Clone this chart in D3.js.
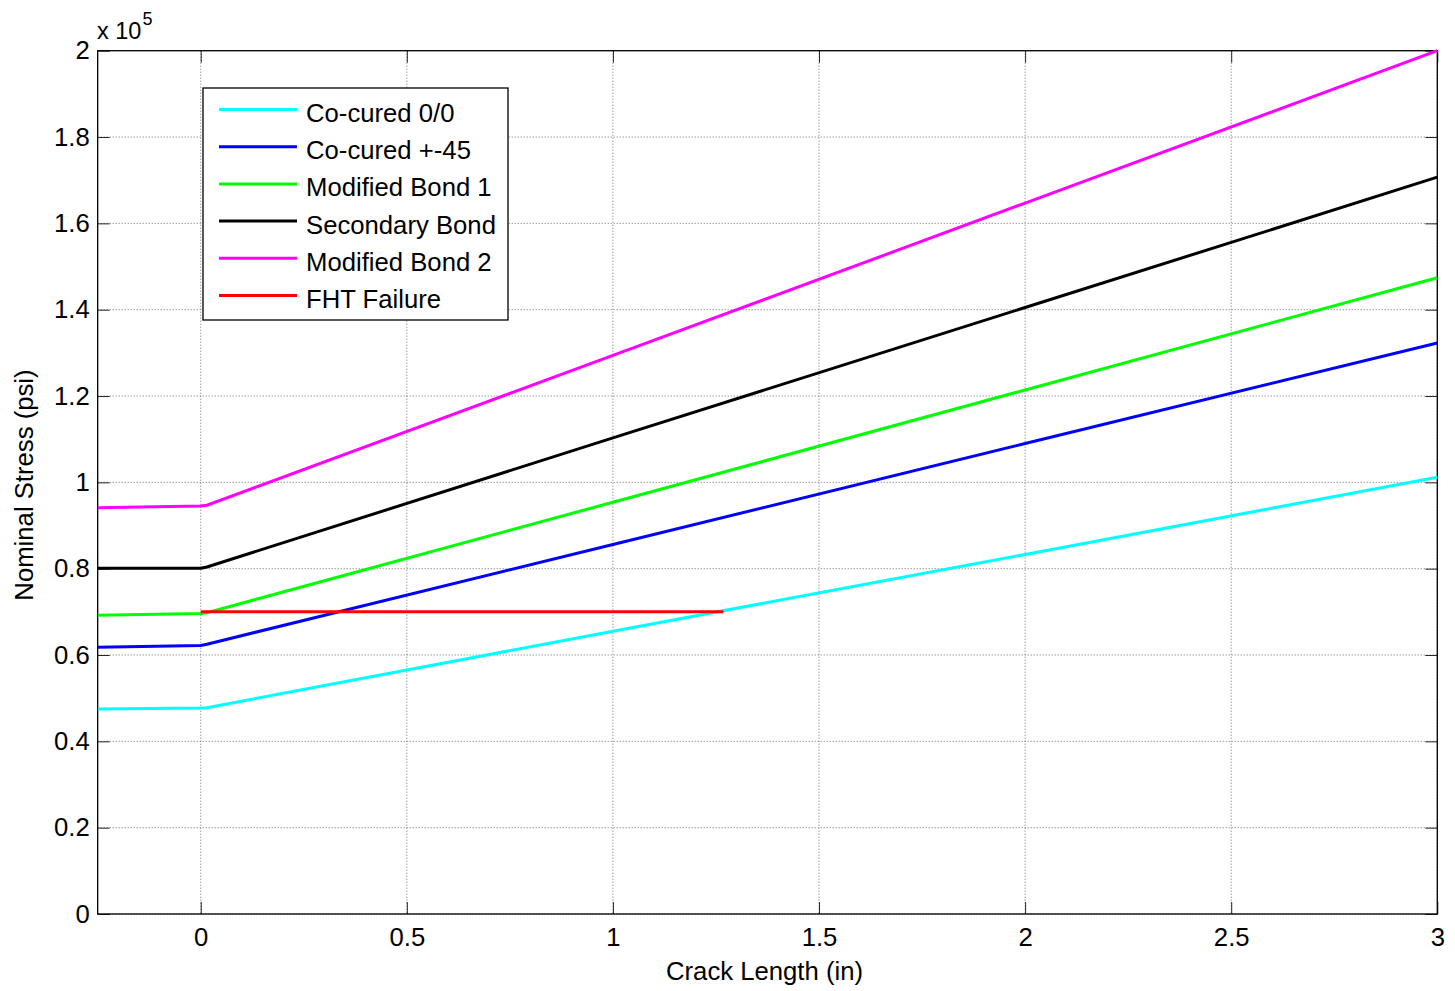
<!DOCTYPE html>
<html>
<head>
<meta charset="utf-8">
<script src="https://cdn.jsdelivr.net/npm/d3@7/dist/d3.min.js"></script>
<style>
  html, body { margin: 0; padding: 0; background: #fff; }
  svg { display: block; font-family: "Liberation Sans", Arial, sans-serif; }
</style>
</head>
<body>
<svg id="chart" width="1455" height="991"></svg>
<script>
// Crack length (in) breakpoints and nominal stress (psi) for each configuration
const crackLength = [-0.25, 0, 0.015, 1, 2, 3];
const cocured00   = [47500, 47700, 47800, 65500, 83300, 101200];
const cocured45   = [61800, 62200, 62500, 85600, 109000, 132300];
const modBond1    = [69200, 69600, 69800, 95400, 121400, 147400];
const secBond     = [80100, 80100, 80400, 110300, 140500, 170700];
const modBond2    = [94100, 94500, 94700, 129400, 164700, 200000];
const fhtLength   = [0, 1.268];
const fhtFailure  = [70000, 70000];

const seriesNames  = ["Co-cured 0/0", "Co-cured +-45", "Modified Bond 1", "Secondary Bond", "Modified Bond 2", "FHT Failure"];
const seriesColors = ["#00ffff", "#0000ff", "#00ff00", "#000000", "#ff00ff", "#ff0000"];

const xTicks = [0, 0.5, 1, 1.5, 2, 2.5, 3];
const yTicks = [0, 20000, 40000, 60000, 80000, 100000, 120000, 140000, 160000, 180000, 200000];

const svg = d3.select("#chart");
const plot = { left: 97.7, right: 1437.3, top: 50.7, bottom: 914 };
const fontSize = 25.7;

const x = d3.scaleLinear().domain([-0.25, 3]).range([plot.left, plot.right]);
const y = d3.scaleLinear().domain([0, 200000]).range([plot.bottom, plot.top]);

const series = [
  { xs: crackLength, ys: cocured00 },
  { xs: crackLength, ys: cocured45 },
  { xs: crackLength, ys: modBond1 },
  { xs: crackLength, ys: secBond },
  { xs: crackLength, ys: modBond2 },
  { xs: fhtLength,   ys: fhtFailure }
].map((s, i) => ({ name: seriesNames[i], color: seriesColors[i], points: s.xs.map((v, j) => [v, s.ys[j]]) }));

// Dotted grid
const grid = svg.append("g").attr("stroke", "#6e6e6e").attr("stroke-width", 1).attr("stroke-dasharray", "1,2");
xTicks.forEach(t => grid.append("line")
  .attr("x1", x(t)).attr("x2", x(t)).attr("y1", plot.top).attr("y2", plot.bottom));
yTicks.forEach(t => grid.append("line")
  .attr("x1", plot.left).attr("x2", plot.right).attr("y1", y(t)).attr("y2", y(t)));

// Axes on all four sides, ticks pointing inward
const tickLen = 12;
const fmtY = v => d3.format("~g")(v / 1e5);

const bottomAxis = svg.append("g").attr("transform", `translate(0,${plot.bottom})`)
  .call(d3.axisBottom(x).tickValues(xTicks).tickSizeInner(-tickLen).tickSizeOuter(0).tickPadding(14).tickFormat(d3.format("~g")));
const topAxis = svg.append("g").attr("transform", `translate(0,${plot.top})`)
  .call(d3.axisTop(x).tickValues(xTicks).tickSizeInner(-tickLen).tickSizeOuter(0).tickFormat(""));
const leftAxis = svg.append("g").attr("transform", `translate(${plot.left},0)`)
  .call(d3.axisLeft(y).tickValues(yTicks).tickSizeInner(-tickLen).tickSizeOuter(0).tickPadding(8).tickFormat(fmtY));
const rightAxis = svg.append("g").attr("transform", `translate(${plot.right},0)`)
  .call(d3.axisRight(y).tickValues(yTicks).tickSizeInner(-tickLen).tickSizeOuter(0).tickFormat(""));

[bottomAxis, topAxis, leftAxis, rightAxis].forEach(a => {
  a.select(".domain").remove();
  a.selectAll(".tick line").attr("stroke", "#262626").attr("stroke-width", 1);
  a.selectAll("text").attr("font-size", fontSize).attr("fill", "#000")
    .attr("font-family", "'Liberation Sans', Arial, sans-serif");
});

// Axis box
svg.append("rect")
  .attr("x", plot.left).attr("y", plot.top)
  .attr("width", plot.right - plot.left).attr("height", plot.bottom - plot.top)
  .attr("fill", "none").attr("stroke", "#000").attr("stroke-width", 1.3);

// Data lines
svg.append("clipPath").attr("id", "plotClip").append("rect")
  .attr("x", plot.left).attr("y", plot.top - 2)
  .attr("width", plot.right - plot.left + 2).attr("height", plot.bottom - plot.top + 2);

const line = d3.line().x(d => x(d[0])).y(d => y(d[1]));
svg.append("g").attr("clip-path", "url(#plotClip)")
  .selectAll("path").data(series).join("path")
  .attr("d", d => line(d.points))
  .attr("fill", "none")
  .attr("stroke", d => d.color)
  .attr("stroke-width", 3)
  .attr("stroke-linejoin", "round");

// Exponent label
const expo = svg.append("text").attr("x", 97).attr("y", 38.5).attr("font-size", 23.5).attr("fill", "#000");
expo.append("tspan").text("x 10");
expo.append("tspan").attr("dx", 1).attr("dy", -13.5).attr("font-size", 18).text("5");

// Axis titles
svg.append("text")
  .attr("x", 764.5).attr("y", 980)
  .attr("text-anchor", "middle").attr("font-size", fontSize).attr("fill", "#000")
  .text("Crack Length (in)");
svg.append("text")
  .attr("transform", `translate(33,485) rotate(-90)`)
  .attr("text-anchor", "middle").attr("font-size", fontSize).attr("fill", "#000")
  .text("Nominal Stress (psi)");

// Legend
const lg = { x: 203, y: 88, w: 305, h: 232, row: 37.2, first: 109.5 };
const legend = svg.append("g");
legend.append("rect")
  .attr("x", lg.x).attr("y", lg.y).attr("width", lg.w).attr("height", lg.h)
  .attr("fill", "#fff").attr("stroke", "#000").attr("stroke-width", 1.3);
const rows = legend.selectAll("g.item").data(series).join("g").attr("class", "item")
  .attr("transform", (d, i) => `translate(0,${lg.first + i * lg.row})`);
rows.append("line")
  .attr("x1", 219).attr("x2", 297).attr("y1", 0).attr("y2", 0)
  .attr("stroke", d => d.color).attr("stroke-width", 3);
rows.append("text")
  .attr("x", 306).attr("y", 12.5)
  .attr("font-size", fontSize).attr("fill", "#000")
  .text(d => d.name);
</script>
</body>
</html>
